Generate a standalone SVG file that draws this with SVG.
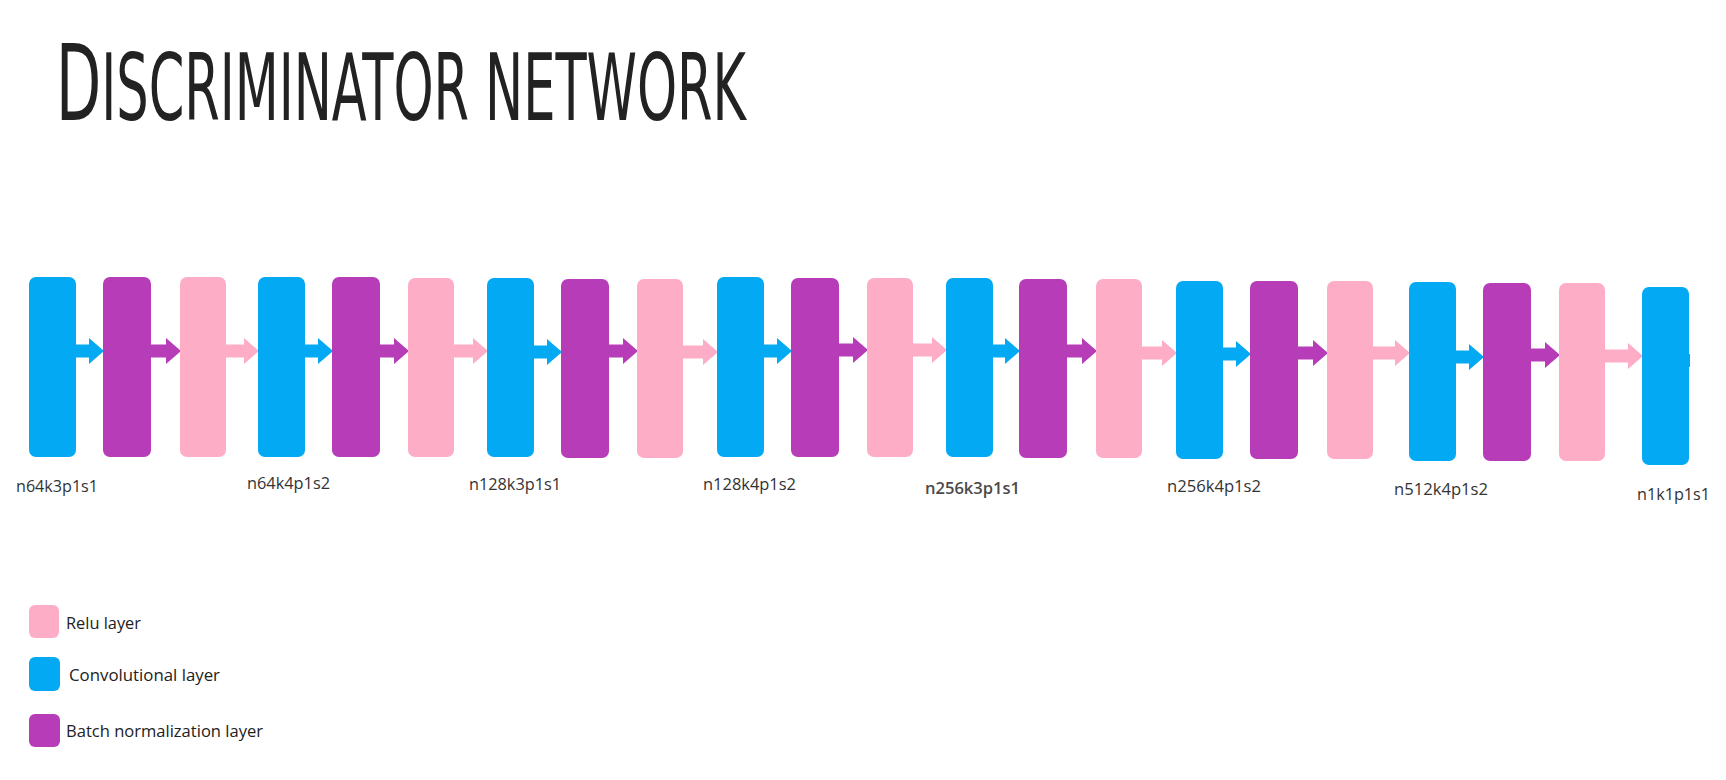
<svg xmlns="http://www.w3.org/2000/svg" width="1726" height="780" viewBox="0 0 1726 780">
  <style>
    .conv { fill: #03A9F2; }
    .bn { fill: #B73CB8; }
    .relu { fill: #FEADC7; }
    .lbl { font-family: "Open Sans", "Noto Sans", "Liberation Sans", sans-serif; font-size: 16px; fill: #333333; }
    .leg { font-family: "Open Sans", "Noto Sans", "Liberation Sans", sans-serif; font-size: 16.5px; fill: #222222; }
    .title { font-family: "Liberation Sans Narrow", "DejaVu Sans Condensed", "Liberation Sans", sans-serif; fill: #222222; }
  </style>
  <rect width="1726" height="780" fill="#ffffff"/>

  <g id="title">
    <text class="title" transform="translate(56,120) scale(0.616,1)" x="0" y="0"><tspan font-size="106">D</tspan><tspan font-size="92" style="text-transform: uppercase">iscriminator network</tspan></text>
  </g>

  <g id="connectors">
    <path class="conv" d="M74,344.5 H89 V338 L104,351 L89,364 V357.5 H74 Z"/>
    <path class="bn" d="M149,344.5 H166 V338 L181,351 L166,364 V357.5 H149 Z"/>
    <path class="relu" d="M224,344.5 H244 V338 L259,351 L244,364 V357.5 H224 Z"/>
    <path class="conv" d="M303,344.5 H318 V338 L333,351 L318,364 V357.5 H303 Z"/>
    <path class="bn" d="M378,344.5 H394 V338 L409,351 L394,364 V357.5 H378 Z"/>
    <path class="relu" d="M452,344.5 H473 V338 L488,351 L473,364 V357.5 H452 Z"/>
    <path class="conv" d="M532,345.5 H547 V339 L562,352 L547,365 V358.5 H532 Z"/>
    <path class="bn" d="M607,344.5 H623 V338 L638,351 L623,364 V357.5 H607 Z"/>
    <path class="relu" d="M681,345.5 H703 V339 L718,352 L703,365 V358.5 H681 Z"/>
    <path class="conv" d="M762,344.5 H777 V338 L792,351 L777,364 V357.5 H762 Z"/>
    <path class="bn" d="M837,343.5 H853 V337 L868,350 L853,363 V356.5 H837 Z"/>
    <path class="relu" d="M911,343.5 H932 V337 L947,350 L932,363 V356.5 H911 Z"/>
    <path class="conv" d="M991,344.5 H1005 V338 L1020,351 L1005,364 V357.5 H991 Z"/>
    <path class="bn" d="M1065,344.5 H1082 V338 L1097,351 L1082,364 V357.5 H1065 Z"/>
    <path class="relu" d="M1140,346.5 H1162 V340 L1177,353 L1162,366 V359.5 H1140 Z"/>
    <path class="conv" d="M1221,347.5 H1236 V341 L1251,354 L1236,367 V360.5 H1221 Z"/>
    <path class="bn" d="M1296,346.5 H1313 V340 L1328,353 L1313,366 V359.5 H1296 Z"/>
    <path class="relu" d="M1371,346.5 H1395 V340 L1410,353 L1395,366 V359.5 H1371 Z"/>
    <path class="conv" d="M1454,350.5 H1469 V344 L1484,357 L1469,370 V363.5 H1454 Z"/>
    <path class="bn" d="M1529,348.5 H1545 V342 L1560,355 L1545,368 V361.5 H1529 Z"/>
    <path class="relu" d="M1603,349.5 H1628 V343 L1643,356 L1628,369 V362.5 H1603 Z"/>
  </g>

  <g id="node-1"><rect class="conv" x="29" y="277" width="47" height="180" rx="7"/></g>
  <g id="node-2"><rect class="bn" x="103" y="277" width="48" height="180" rx="7"/></g>
  <g id="node-3"><rect class="relu" x="180" y="277" width="46" height="180" rx="7"/></g>
  <g id="node-4"><rect class="conv" x="258" y="277" width="47" height="180" rx="7"/></g>
  <g id="node-5"><rect class="bn" x="332" y="277" width="48" height="180" rx="7"/></g>
  <g id="node-6"><rect class="relu" x="408" y="278" width="46" height="179" rx="7"/></g>
  <g id="node-7"><rect class="conv" x="487" y="278" width="47" height="179" rx="7"/></g>
  <g id="node-8"><rect class="bn" x="561" y="279" width="48" height="179" rx="7"/></g>
  <g id="node-9"><rect class="relu" x="637" y="279" width="46" height="179" rx="7"/></g>
  <g id="node-10"><rect class="conv" x="717" y="277" width="47" height="180" rx="7"/></g>
  <g id="node-11"><rect class="bn" x="791" y="278" width="48" height="179" rx="7"/></g>
  <g id="node-12"><rect class="relu" x="867" y="278" width="46" height="179" rx="7"/></g>
  <g id="node-13"><rect class="conv" x="946" y="278" width="47" height="179" rx="7"/></g>
  <g id="node-14"><rect class="bn" x="1019" y="279" width="48" height="179" rx="7"/></g>
  <g id="node-15"><rect class="relu" x="1096" y="279" width="46" height="179" rx="7"/></g>
  <g id="node-16"><rect class="conv" x="1176" y="281" width="47" height="178" rx="7"/></g>
  <g id="node-17"><rect class="bn" x="1250" y="281" width="48" height="178" rx="7"/></g>
  <g id="node-18"><rect class="relu" x="1327" y="281" width="46" height="178" rx="7"/></g>
  <g id="node-19"><rect class="conv" x="1409" y="282" width="47" height="179" rx="7"/></g>
  <g id="node-20"><rect class="bn" x="1483" y="283" width="48" height="178" rx="7"/></g>
  <g id="node-21"><rect class="relu" x="1559" y="283" width="46" height="178" rx="7"/></g>
  <g id="node-22"><rect class="conv" x="1642" y="287" width="47" height="178" rx="7"/><rect class="conv" x="1686" y="354" width="4" height="13"/></g>

  <g id="labels">
    <text class="lbl" x="16" y="491.5" textLength="82" lengthAdjust="spacingAndGlyphs">n64k3p1s1</text>
    <text class="lbl" x="247" y="488.5" textLength="83" lengthAdjust="spacingAndGlyphs">n64k4p1s2</text>
    <text class="lbl" x="469" y="490" textLength="92" lengthAdjust="spacingAndGlyphs">n128k3p1s1</text>
    <text class="lbl" x="703" y="490" textLength="93" lengthAdjust="spacingAndGlyphs">n128k4p1s2</text>
    <text class="lbl" x="925" y="493.5" textLength="95" lengthAdjust="spacingAndGlyphs" style="font-weight:600; fill:#4a4a4a">n256k3p1s1</text>
    <text class="lbl" x="1167" y="491.5" textLength="94" lengthAdjust="spacingAndGlyphs">n256k4p1s2</text>
    <text class="lbl" x="1394" y="495" textLength="94" lengthAdjust="spacingAndGlyphs">n512k4p1s2</text>
    <text class="lbl" x="1637" y="500" textLength="73" lengthAdjust="spacingAndGlyphs">n1k1p1s1</text>
  </g>

  <g id="legend">
    <g id="legend-relu">
      <rect class="relu" x="29" y="605" width="30" height="33" rx="6"/>
      <text class="leg" x="66" y="628.5" textLength="75" lengthAdjust="spacingAndGlyphs">Relu layer</text>
    </g>
    <g id="legend-conv">
      <rect class="conv" x="29" y="657" width="31" height="34" rx="6"/>
      <text class="leg" x="69" y="681" textLength="151" lengthAdjust="spacingAndGlyphs">Convolutional layer</text>
    </g>
    <g id="legend-bn">
      <rect class="bn" x="29" y="714" width="31" height="33" rx="6"/>
      <text class="leg" x="66" y="736.5" textLength="197" lengthAdjust="spacingAndGlyphs">Batch normalization layer</text>
    </g>
  </g>
</svg>
